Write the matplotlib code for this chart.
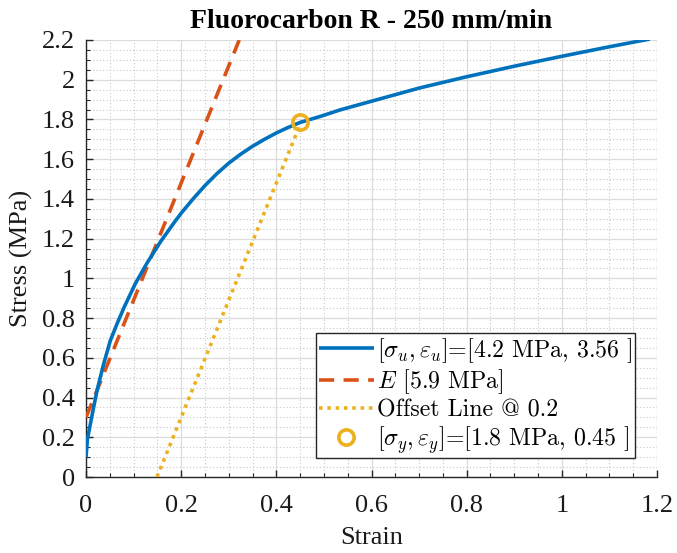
import matplotlib
matplotlib.use("Agg")
import matplotlib.pyplot as plt
from matplotlib.ticker import MultipleLocator, FixedLocator, FixedFormatter

# Measured stress-strain response
strain = [0.000, 0.003, 0.013, 0.023, 0.037, 0.051, 0.065, 0.080, 0.104, 0.129,
          0.157, 0.185, 0.200, 0.225, 0.250, 0.275, 0.300, 0.325, 0.350, 0.375,
          0.400, 0.425, 0.450, 0.492, 0.534, 0.576, 0.620, 0.700, 0.800, 0.900,
          1.000, 1.100, 1.185]
stress = [0.100, 0.190, 0.314, 0.434, 0.568, 0.686, 0.770, 0.854, 0.975, 1.080,
          1.186, 1.280, 1.328, 1.400, 1.467, 1.527, 1.580, 1.625, 1.665, 1.700,
          1.732, 1.760, 1.785, 1.815, 1.848, 1.876, 1.905, 1.958, 2.015, 2.068,
          2.118, 2.166, 2.205]

# Elastic fit and 0.2 offset construction
modulus = 5.9
intercept = 0.3
offset = 0.2
yield_strain = 0.45
yield_stress = 1.785
ultimate_stress = 4.2
ultimate_strain = 3.56

xticks = [0, 0.2, 0.4, 0.6, 0.8, 1.0, 1.2]
xtick_labels = ["0", "0.2", "0.4", "0.6", "0.8", "1", "1.2"]
yticks = [0, 0.2, 0.4, 0.6, 0.8, 1.0, 1.2, 1.4, 1.6, 1.8, 2.0, 2.2]
ytick_labels = ["0", "0.2", "0.4", "0.6", "0.8", "1", "1.2", "1.4", "1.6", "1.8", "2", "2.2"]

BLUE = "#0072BD"
ORANGE = "#D95319"
YELLOW = "#EDB120"
AXCOL = "#262626"

plt.rcParams["font.family"] = ["Liberation Serif"]
plt.rcParams["mathtext.fontset"] = "cm"

fig = plt.figure(figsize=(6.77, 5.53), dpi=100)
ax = fig.add_axes([86 / 677, 76 / 553, 571 / 677, 437 / 553])

xmin, xmax = 0.0, 1.2
ymin, ymax = 0.0, 2.2

ax.plot(strain, stress, color=BLUE, lw=2.6, solid_capstyle="butt",
        label=r"$[\sigma_u,\varepsilon_u]$=[%.1f MPa, %.2f ]" % (ultimate_stress, ultimate_strain),
        zorder=4)

# Elastic line through the intercept, drawn up to the top of the axes
e_x = [0.0, (ymax - intercept) / modulus]
e_y = [intercept + modulus * v for v in e_x]
ax.plot(e_x, e_y, color=ORANGE, lw=2.6, dashes=(4.2, 2.6),
        label=r"$E$ [%.1f MPa]" % modulus, zorder=3)

# Offset line from the strain axis up to the yield point
o_x0 = offset - intercept / modulus
o_x = [o_x0, yield_strain]
o_y = [intercept + modulus * (v - offset) for v in o_x]
ax.plot(o_x, o_y, color=YELLOW, lw=2.6, linestyle=(0, (1, 1.3)),
        label="Offset Line @ %.1f" % offset, zorder=3)

ax.plot([yield_strain], [yield_stress], linestyle="none", marker="o", ms=11,
        mfc="none", mec=YELLOW, mew=2.6,
        label=r"$[\sigma_y,\varepsilon_y]$=[%.1f MPa, %.2f ]" % (round(yield_stress, 1), yield_strain),
        zorder=5)

ax.set_xlim(xmin, xmax)
ax.set_ylim(ymin, ymax)
ax.xaxis.set_major_locator(FixedLocator(xticks))
ax.xaxis.set_major_formatter(FixedFormatter(xtick_labels))
ax.yaxis.set_major_locator(FixedLocator(yticks))
ax.yaxis.set_major_formatter(FixedFormatter(ytick_labels))
ax.xaxis.set_minor_locator(MultipleLocator(0.05))
ax.yaxis.set_minor_locator(MultipleLocator(0.05))

ax.grid(which="major", color="#dcdcdc", lw=0.9, linestyle="-")
ax.grid(which="minor", color="#c8c8c8", lw=0.8, linestyle=(0, (1, 2)))
ax.set_axisbelow(True)

for side in ("top", "right"):
    ax.spines[side].set_visible(False)
for side in ("left", "bottom"):
    ax.spines[side].set_color(AXCOL)
    ax.spines[side].set_linewidth(1.0)

ax.tick_params(which="both", direction="in", colors=AXCOL, top=False, right=False)
ax.tick_params(which="major", length=5, width=1.0, labelsize=19, labelcolor="#1a1a1a")
ax.tick_params(axis="x", which="major", pad=13)
ax.tick_params(axis="y", which="major", pad=8)
ax.tick_params(which="minor", length=3, width=0.8)

ax.set_xlabel("Strain", fontsize=19, color="#1a1a1a", labelpad=7)
ax.set_ylabel("Stress (MPa)", fontsize=19, color="#1a1a1a", labelpad=6)
ax.set_title("Fluorocarbon R - 250 mm/min", fontsize=20, fontweight="bold", pad=9)

leg = ax.legend(loc="lower right", bbox_to_anchor=(549 / 571, 19 / 437),
                borderaxespad=0, prop={"family": "cmr10", "size": 17.2},
                handlelength=2.3, handletextpad=0.15,
                labelspacing=0.12, borderpad=0.1, fancybox=False, framealpha=1,
                edgecolor=AXCOL)
leg.get_frame().set_linewidth(1.0)

fig.savefig("out.png", dpi=100)
